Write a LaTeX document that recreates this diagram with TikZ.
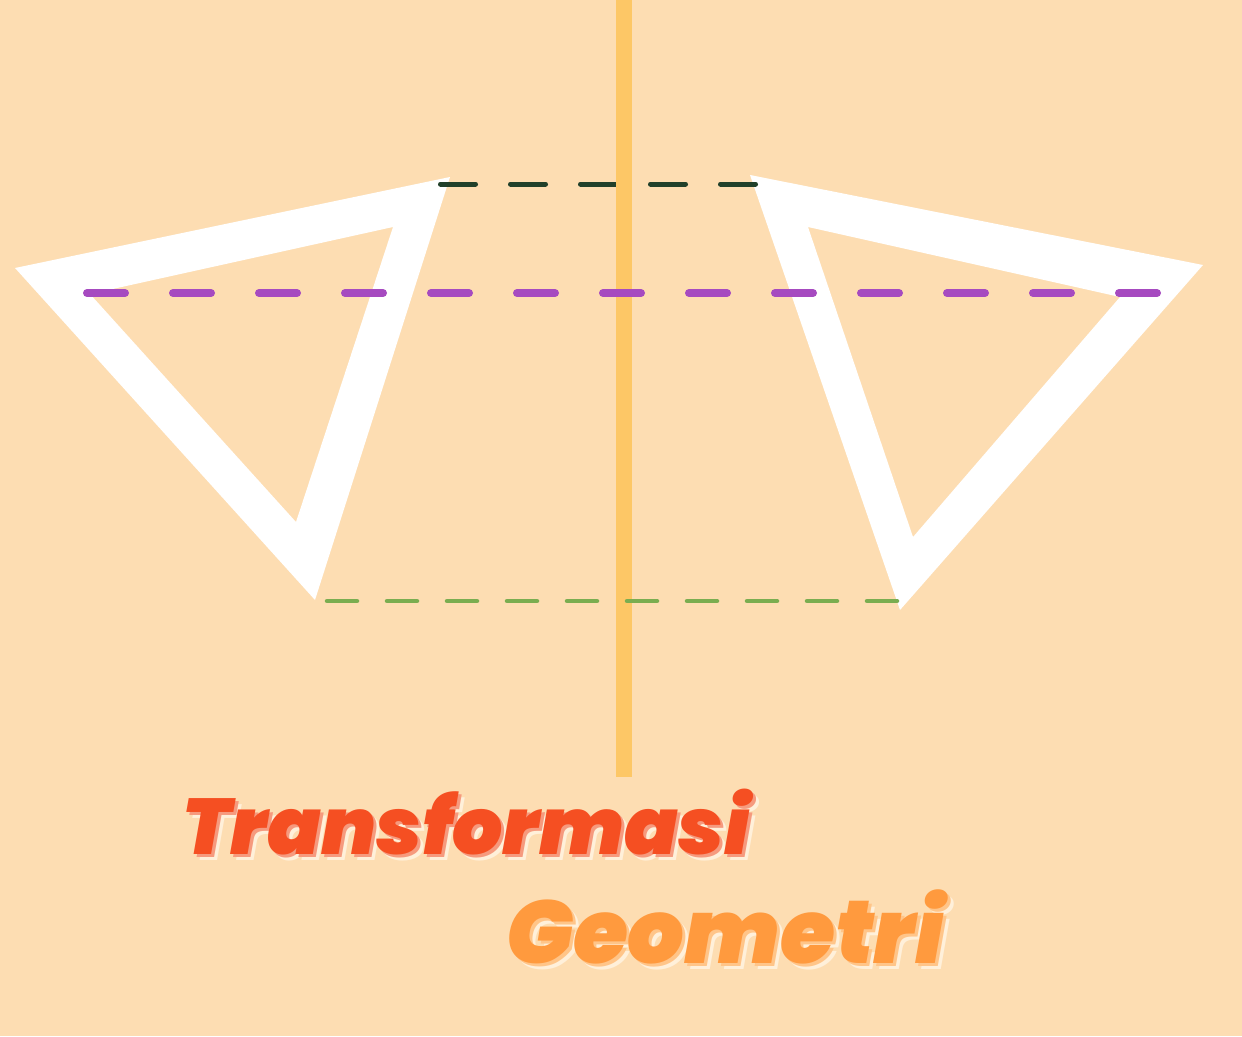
\documentclass[tikz,border=0pt]{standalone}
\usepackage{fontspec}
\newfontfamily\heavy{Poppins Black Italic}
\definecolor{bg}{HTML}{FDDDB2}
\definecolor{axis}{HTML}{FDC766}
\definecolor{dkgreen}{HTML}{21402A}
\definecolor{purp}{HTML}{A64AC0}
\definecolor{ltgreen}{HTML}{7AAD50}
\definecolor{redor}{HTML}{F54F22}
\definecolor{redsh}{HTML}{F69A7E}
\definecolor{orng}{HTML}{FF9A3E}
\definecolor{orsh}{HTML}{FFC589}
\definecolor{cream}{HTML}{FFF0DA}
\tikzset{
  tri/.style={fill=white, even odd rule},
  titleA/.style={font=\heavy\fontsize{79}{90}\selectfont, inner sep=0pt, anchor=base west},
  titleB/.style={font=\heavy\fontsize{89}{100}\selectfont, inner sep=0pt, anchor=base west},
}
\begin{document}
\begin{tikzpicture}[x=1pt,y=-1pt]
\fill[bg] (0,0) rectangle (1242,1036);
\useasboundingbox (0,0) rectangle (1242,1036);
% triangles
\fill[tri] (15,268) -- (450,177) -- (315,600) -- cycle
           (90,294) -- (393,227) -- (296,522) -- cycle;
\fill[tri] (750,175) -- (1203,265) -- (900,610) -- cycle
           (808,227) -- (1120,297) -- (913,537) -- cycle;
% dark green dashes (under the axis)
\draw[dkgreen, line width=5pt, line cap=round, dash pattern=on 35pt off 35pt] (440.5,184) -- (757.5,184);
% axis
\draw[axis, line width=16pt] (624,0) -- (624,777);
% dashed lines
\draw[purp, line width=8pt, line cap=round, dash pattern=on 38pt off 48pt] (87,293) -- (1157,293);
\draw[ltgreen, line width=4.5pt, line cap=round, dash pattern=on 30pt off 30pt] (327,601) -- (897,601);
% titles
\node[titleA, text=cream] (t3) at (188,860) {Transformasi};
\node[titleA, text=redsh] (t2) at (185,857) {Transformasi};
\node[titleA, text=redor] (t1) at (182,854) {Transformasi};
\node[titleB, text=cream] (g3) at (512,969) {Geometri};
\node[titleB, text=orsh] (g2) at (509,966) {Geometri};
\node[titleB, text=orng] (g1) at (506,963) {Geometri};
\end{tikzpicture}
\end{document}
